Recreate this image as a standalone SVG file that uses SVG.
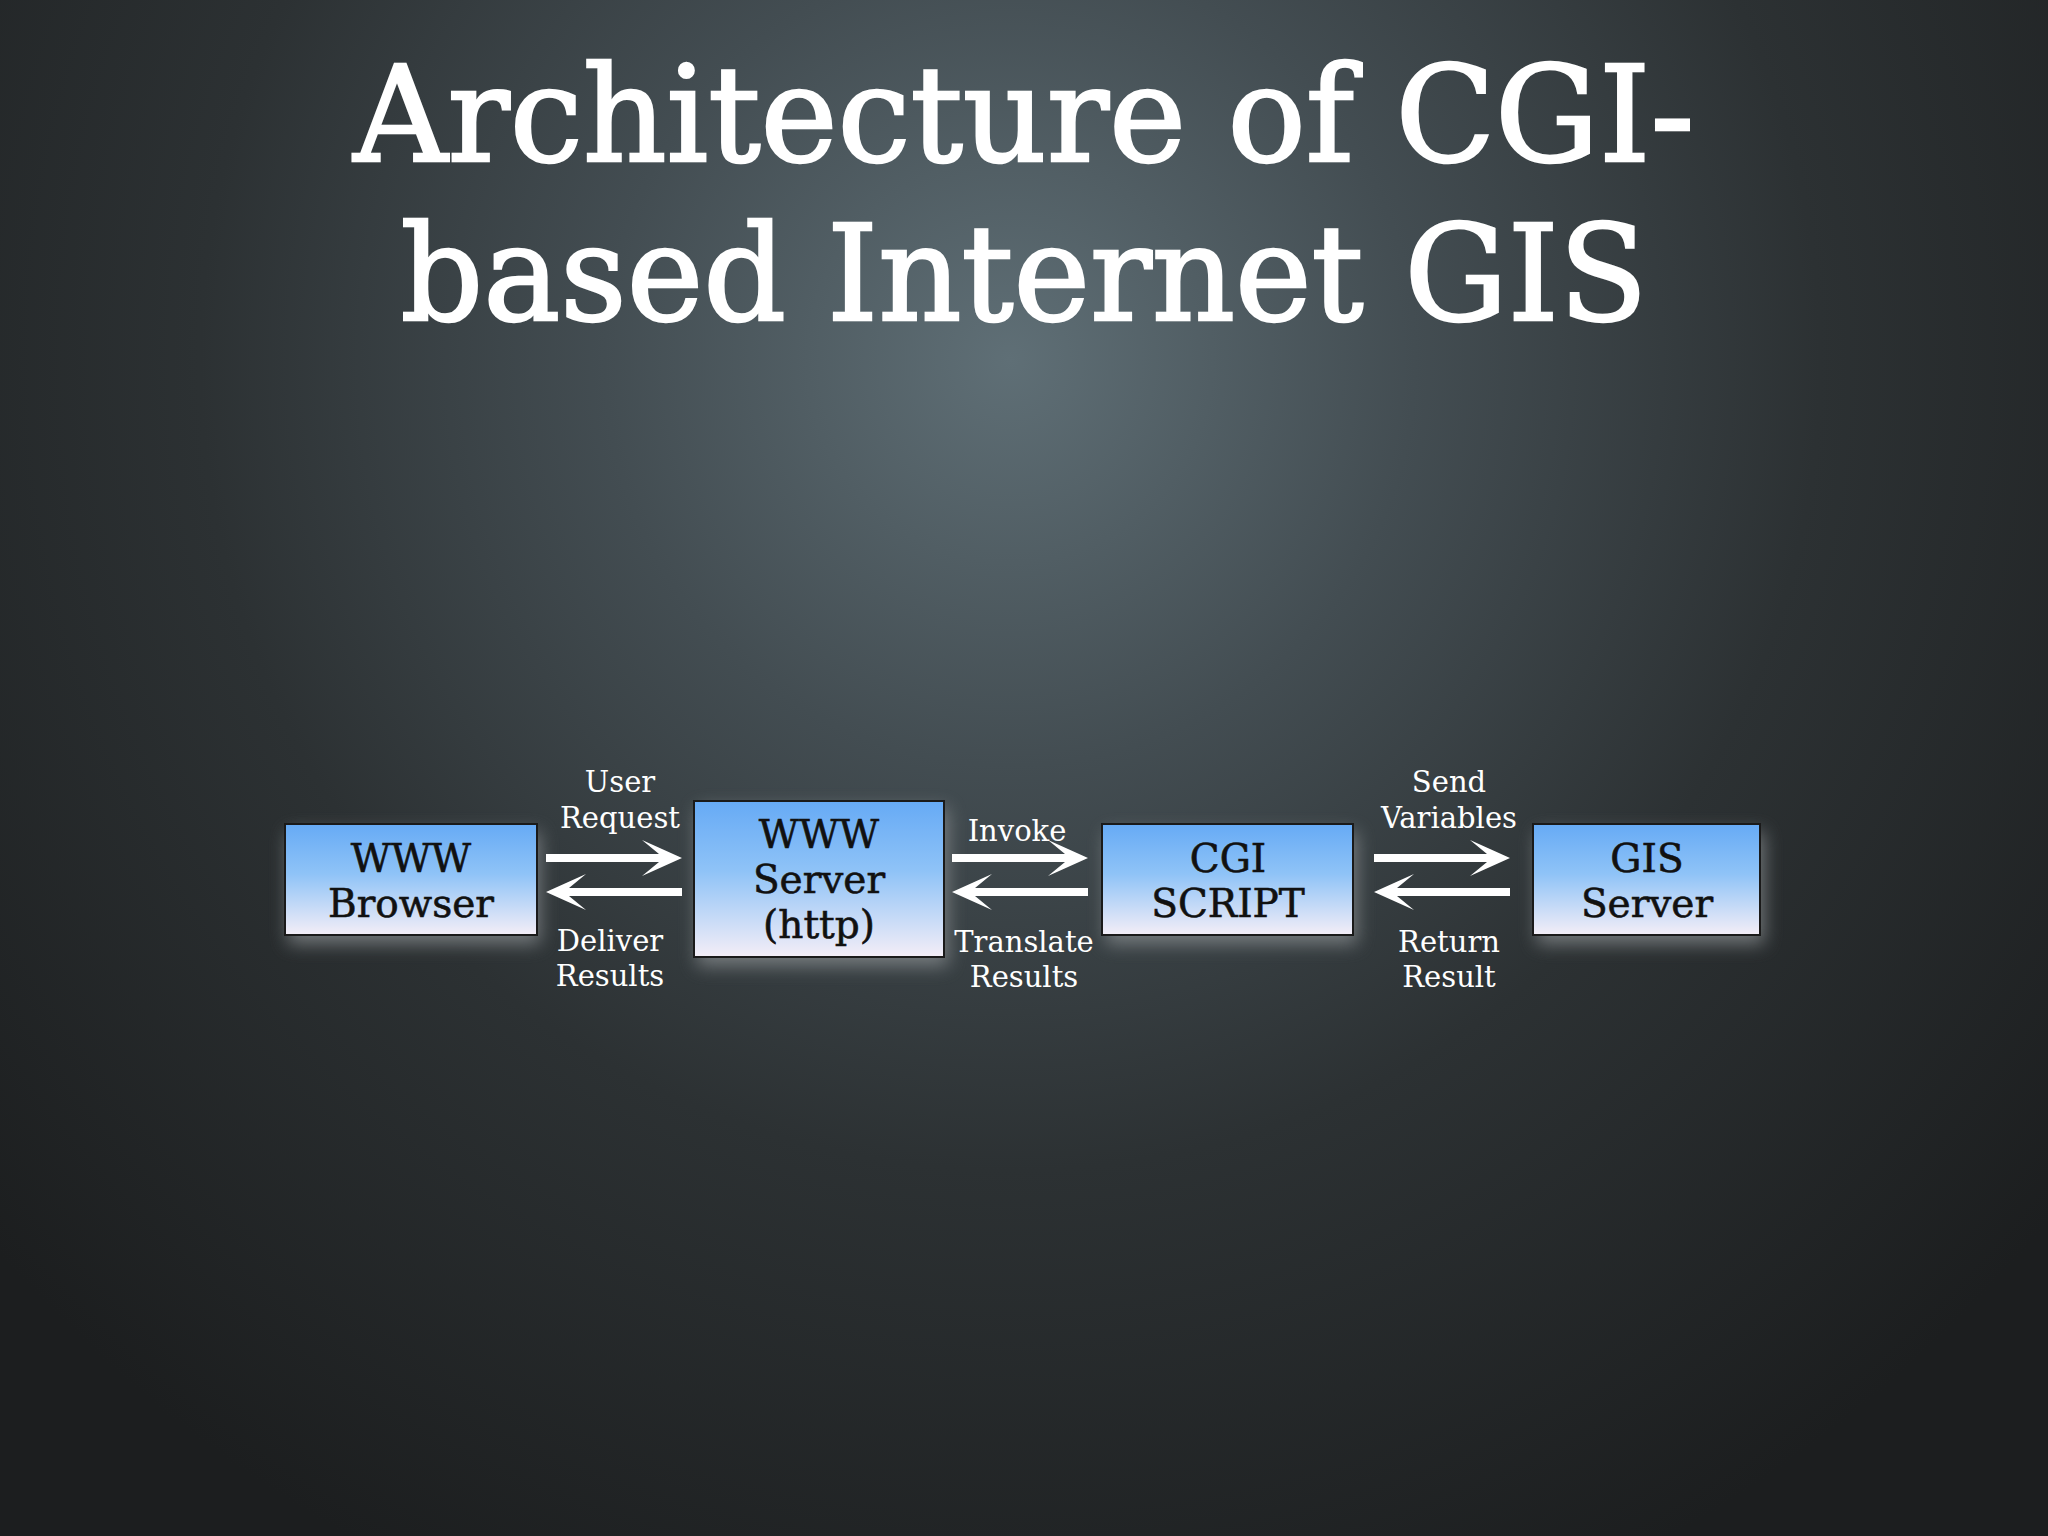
<svg xmlns="http://www.w3.org/2000/svg" width="2048" height="1536" viewBox="0 0 2048 1536">
<style>
.title{font-family:"DejaVu Serif","Liberation Serif",serif;font-size:132px;fill:#ffffff;stroke:#ffffff;stroke-width:2.5;text-anchor:middle}
.node{font-family:"DejaVu Serif","Liberation Serif",serif;font-size:39px;fill:#111111;stroke:#111111;stroke-width:0.6;text-anchor:middle}
.lbl{font-family:"DejaVu Serif","Liberation Serif",serif;font-size:29px;fill:#ffffff;text-anchor:middle}
.box{fill:url(#boxg);stroke:#1a1a1a;stroke-width:2}
.arrow{fill:#ffffff}
</style>
<defs>
<radialGradient id="bg" cx="1010" cy="360" r="1350" gradientUnits="userSpaceOnUse">
<stop offset="0" stop-color="#5f6f76"/>
<stop offset="0.3" stop-color="#434d52"/>
<stop offset="0.6" stop-color="#2c3133"/>
<stop offset="1" stop-color="#1c1e1f"/>
</radialGradient>
<linearGradient id="boxg" x1="0" y1="0" x2="0" y2="1">
<stop offset="0" stop-color="#66aaf5"/>
<stop offset="0.45" stop-color="#8fc3f7"/>
<stop offset="1" stop-color="#f4eef7"/>
</linearGradient>
<filter id="glow" x="-20%" y="-30%" width="140%" height="170%">
<feGaussianBlur stdDeviation="9"/>
</filter>
<path id="rarrow" d="M0,-4 L113,-4 L96,-18 L136,0 L96,18 L113,4 L0,4 Z"/>
</defs>
<rect x="0" y="0" width="2048" height="1536" fill="url(#bg)"/>
<g id="title">
<text class="title" x="1024" y="161" textLength="1341" lengthAdjust="spacingAndGlyphs">Architecture of CGI-</text>
<text class="title" x="1024" y="320" textLength="1247" lengthAdjust="spacingAndGlyphs">based Internet GIS</text>
</g>
<g id="shadows" fill="#8a8f92" opacity="0.75" filter="url(#glow)">
<rect x="288" y="832" width="252" height="112"/>
<rect x="697" y="808" width="251" height="158"/>
<rect x="1106" y="832" width="251" height="112"/>
<rect x="1537" y="832" width="227" height="112"/>
</g>
<g id="browser">
<rect class="box" x="285" y="824" width="252" height="111"/>
<text class="node" x="411" y="872">WWW</text>
<text class="node" x="411" y="917">Browser</text>
</g>
<g id="wwwserver">
<rect class="box" x="694" y="801" width="250" height="156"/>
<text class="node" x="819" y="848">WWW</text>
<text class="node" x="819" y="893">Server</text>
<text class="node" x="819" y="938">(http)</text>
</g>
<g id="cgiscript">
<rect class="box" x="1102" y="824" width="251" height="111"/>
<text class="node" x="1228" y="872">CGI</text>
<text class="node" x="1228" y="917">SCRIPT</text>
</g>
<g id="gisserver">
<rect class="box" x="1533" y="824" width="227" height="111"/>
<text class="node" x="1647" y="872">GIS</text>
<text class="node" x="1647" y="917">Server</text>
</g>
<g id="connectors">
<use href="#rarrow" class="arrow" transform="translate(546 858)"/>
<use href="#rarrow" class="arrow" transform="translate(682 892) scale(-1 1)"/>
<use href="#rarrow" class="arrow" transform="translate(952 858)"/>
<use href="#rarrow" class="arrow" transform="translate(1088 892) scale(-1 1)"/>
<use href="#rarrow" class="arrow" transform="translate(1374 858)"/>
<use href="#rarrow" class="arrow" transform="translate(1510 892) scale(-1 1)"/>
<text class="lbl" x="620" y="792">User</text>
<text class="lbl" x="620" y="828">Request</text>
<text class="lbl" x="610" y="951">Deliver</text>
<text class="lbl" x="610" y="986">Results</text>
<text class="lbl" x="1017" y="841">Invoke</text>
<text class="lbl" x="1024" y="952">Translate</text>
<text class="lbl" x="1024" y="987">Results</text>
<text class="lbl" x="1449" y="792">Send</text>
<text class="lbl" x="1449" y="828">Variables</text>
<text class="lbl" x="1449" y="952">Return</text>
<text class="lbl" x="1449" y="987">Result</text>
</g>
</svg>
